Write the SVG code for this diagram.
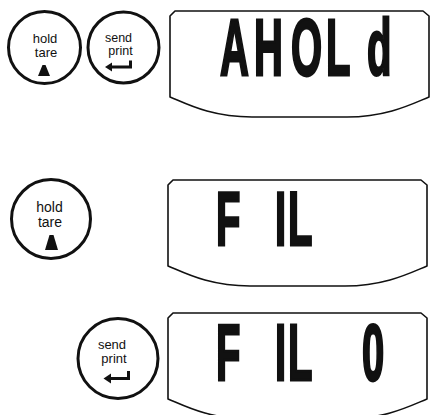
<svg xmlns="http://www.w3.org/2000/svg" width="430" height="415" viewBox="0 0 430 415">
<defs>
<style>
.btn{fill:#fff;stroke:#111;stroke-width:3}
.lbl{font-family:"Liberation Sans",Arial,sans-serif;fill:#111;text-anchor:middle}
.disp{fill:#fff;stroke:#111;stroke-width:1.6;stroke-linejoin:round}
.lcd{font-family:"Liberation Sans",Arial,sans-serif;font-weight:bold;font-size:40px;fill:#111;stroke:#111;stroke-width:2.2;vector-effect:non-scaling-stroke;stroke-linejoin:miter}
.icon{fill:#111}
.enter{fill:none;stroke:#111;stroke-width:3}
</style>
<path id="dshape" d="M0,5 L5,0 L253,0 L259,5 L259,86 C244,92 218,106 177,106 L82,106 C40,106 15,92 0,86 Z"/>
</defs>
<rect width="430" height="415" fill="#fff"/>

<g id="connectors"></g>

<g id="btn-hold-1">
<circle class="btn" cx="44.5" cy="47.5" r="36"/>
<text class="lbl" x="45" y="43" font-size="13">hold</text>
<text class="lbl" x="46" y="57" font-size="13">tare</text>
<polygon class="icon" points="42.5,65 45.5,65 50,76 38,76"/>
</g>

<g id="btn-send-1">
<circle class="btn" cx="123.5" cy="47.5" r="35.5"/>
<text class="lbl" x="118.5" y="42" font-size="12.5">send</text>
<text class="lbl" x="120.5" y="55" font-size="12.5">print</text>
<path class="enter" d="M110,67 H130.5 V60.5"/>
<polygon class="icon" points="105,67 112,62.5 112,71.5"/>
</g>

<g id="display-1">
<use href="#dshape" class="disp" transform="translate(170,11)"/>
<text class="lcd" transform="translate(0,75) scale(1,2)" x="220 254 291 326 367" y="0">AHOLd</text>
</g>

<g id="btn-hold-2">
<circle class="btn" cx="51" cy="219" r="39.5"/>
<text class="lbl" x="49.5" y="212" font-size="14">hold</text>
<text class="lbl" x="50" y="227" font-size="14">tare</text>
<polygon class="icon" points="49.5,235 53.5,235 58,250 45,250"/>
</g>

<g id="display-2">
<use href="#dshape" class="disp" transform="translate(168,180)"/>
<text class="lcd" transform="translate(0,245) scale(1,1.92)" x="216 240 275 288" y="0">F IL</text>
</g>

<g id="btn-send-2">
<circle class="btn" cx="118" cy="358.5" r="40"/>
<text class="lbl" x="112" y="349" font-size="13">send</text>
<text class="lbl" x="114" y="363" font-size="13">print</text>
<path class="enter" d="M109,378.5 H128.5 V371"/>
<polygon class="icon" points="103.5,378.5 111,373.5 111,383.5"/>
</g>

<g id="display-3">
<use href="#dshape" class="disp" transform="translate(168,313)"/>
<text class="lcd" transform="translate(0,380) scale(1,2)" x="216 240 275 288 320 362" y="0">F IL 0</text>
</g>
</svg>
